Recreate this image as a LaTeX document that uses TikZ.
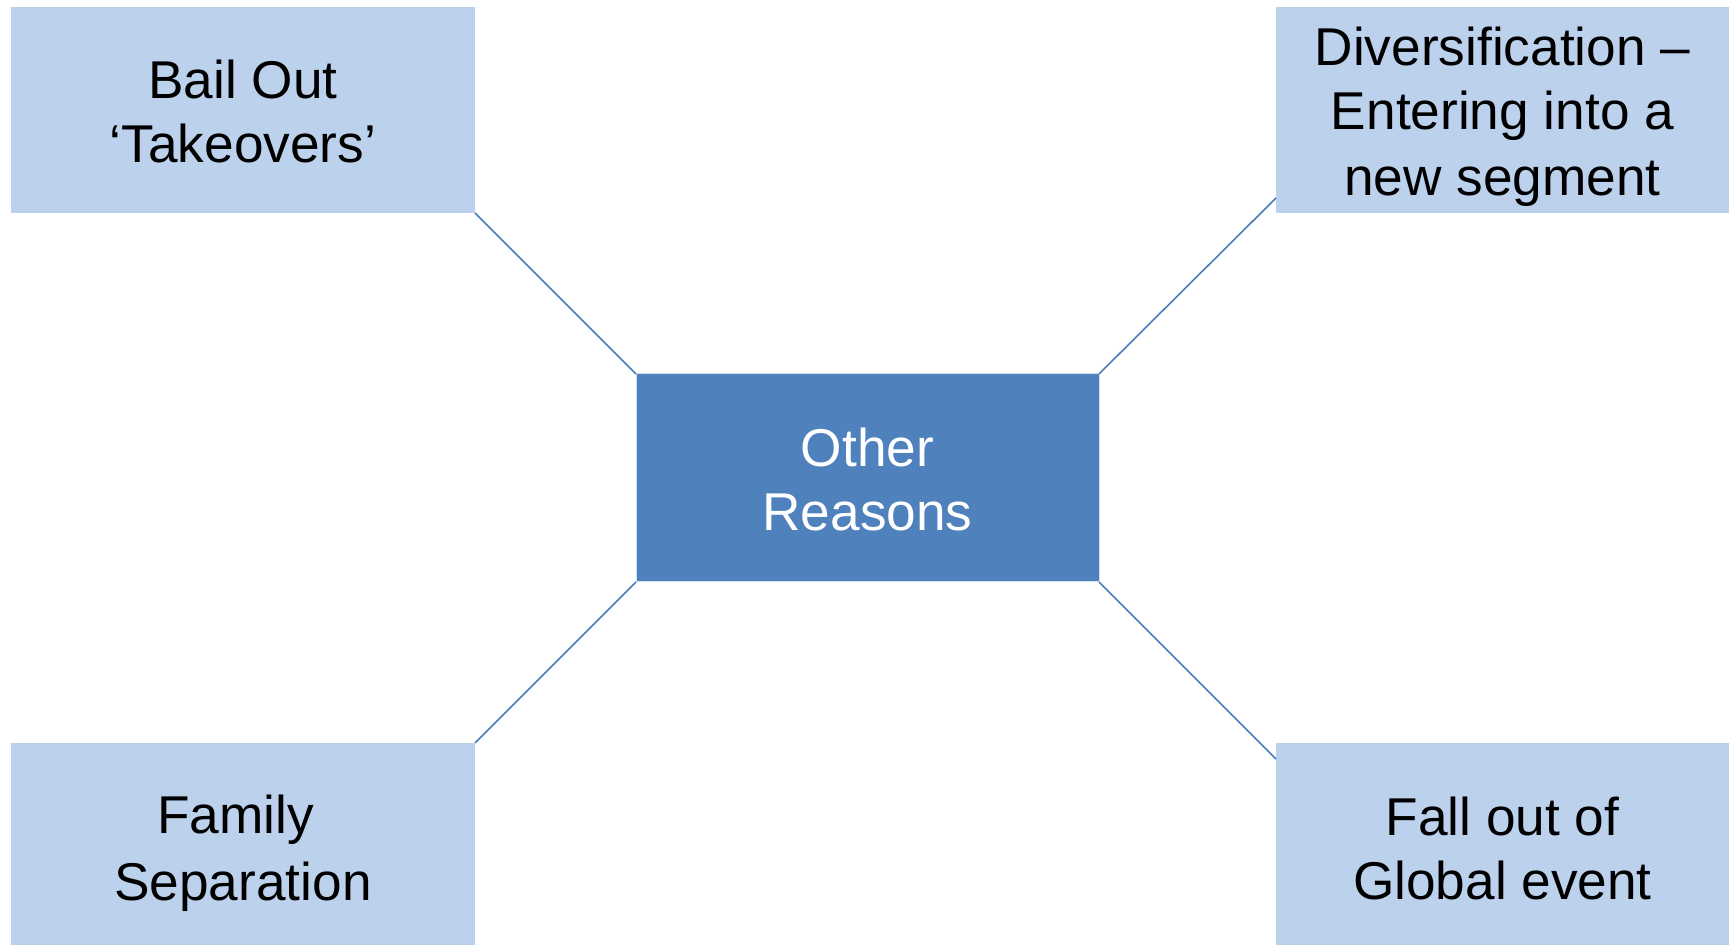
\documentclass[tikz,border=0pt]{standalone}
\usepackage{fontspec}
\setmainfont{Liberation Sans}
\usetikzlibrary{calc}
\definecolor{paleblue}{HTML}{BCD1EC}
\definecolor{midblue}{HTML}{4F81BD}
\definecolor{linkblue}{HTML}{4A7EBB}
% fixed line box: 26.5pt above and 5.5pt below each baseline
\newcommand{\linebox}{\rule[-5.5pt]{0pt}{32pt}}
\begin{document}
\begin{tikzpicture}[x=0.5pt,y=-0.5pt,
  boxtext/.style={font=\fontsize{26.6pt}{32pt}\selectfont, align=center,
    inner sep=0pt, outer sep=0pt},
  leaf/.style={boxtext, fill=paleblue, text=black,
    minimum height=103pt},
  hub/.style={boxtext, fill=midblue, text=white,
    draw=white!75!midblue, line width=0.5pt,
    minimum width=231.5pt, minimum height=104pt},
  link/.style={draw=linkblue, line width=0.8pt}]
  \useasboundingbox (0,0) rectangle (1729,945);
  \clip (0,0) rectangle (1729,945);
  \fill[white] (0,0) rectangle (1729,945);

  % outer reason boxes
  \node[leaf, minimum width=232pt] (bail) at (243,110)
    {\linebox Bail Out\\\linebox ‘Takeovers’};
  \node[leaf, minimum width=226.5pt] (div) at (1502.5,110)
    {\linebox Diversification –\\\linebox Entering into a\\\linebox new segment};
  \node[leaf, minimum width=232pt] (fam) at (243,846)
    {\linebox Family\kern0.278em\\\linebox Separation};
  \node[leaf, minimum width=226.5pt] (fall) at (1502.5,846)
    {\linebox Fall out of\\\linebox Global event};

  % central box
  \node[hub] (hub) at (867.5,478) {\linebox Other\\\linebox Reasons};

  % diagonal connectors
  \draw[link] (bail.south east) -- (hub.north west);
  \draw[link] (hub.north east) -- ($(div.south west)+(0,-15)$);
  \draw[link] (hub.south west) -- (fam.north east);
  \draw[link] (hub.south east) -- ($(fall.north west)+(0,16)$);
\end{tikzpicture}
\end{document}
